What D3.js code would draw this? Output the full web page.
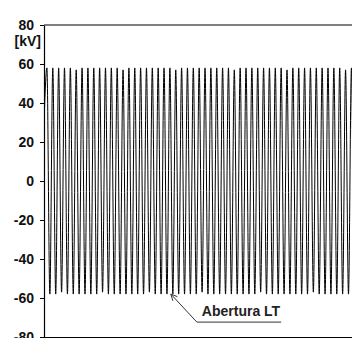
<!DOCTYPE html>
<html>
<head>
<meta charset="utf-8">
<script src="https://cdn.jsdelivr.net/npm/d3@7"></script>
<style>
  html, body { margin: 0; padding: 0; background: #fff; }
  svg { display: block; font-family: Arial, "Liberation Sans", sans-serif; }
</style>
</head>
<body>
<svg id="chart" width="352" height="338"></svg>
<script>
// waveform extrema (kV), one every half cycle at 60 Hz
const voltageKv = [
  30, 58, -58, 58, -58, 58, -57, 58, -58, 58, -58, 57, -58, 58, -58, 58, -58, 58,
  -58, 58, -57, 58, -58, 58, -58, 58, -58, 57, -58, 58, -58, 58, -58, 58, -58, 58,
  -57, 58, -58, 58, -58, 58, -58, 58, -58, 57, -58, 58, -58, 58, -58, 58, -58, 58,
  -57, 58, -58, 58, -58, 58, -58, 58, -58, 58, -58, 57, -58, 58, -58, 58, -58, 58,
  -58, 58, -57, 58, -58, 58, -58, 58, -58, 58, -58, 57, -58, 58, -58, 58, -58, 58,
  -58, 58, -57, 58, -58, 58, -58, 58, -58, 58, -58, 58, -58, 57, -58, 58, -58, 58
];
const startMs = 0;
const halfCycleMs = 1000 / 120;

const yTicks = [-80, -60, -40, -20, 0, 20, 40, 60, 80];
const xTicks = [0, 150, 300, 450, 600, 750, 900];
const unitLabel = "[kV]";

const annotations = [
  {label: "Abertura LT", t: 361, v: -58}
];

const svg = d3.select("#chart");
const width = +svg.attr("width");
const margin = {left: 44, top: 25, bottom: 337};

const x = d3.scaleLinear().domain([0, 900]).range([margin.left, margin.left + 6 * 52.7]);
const y = d3.scaleLinear().domain([-80, 80]).range([margin.bottom, margin.top]);

const samples = voltageKv.map((v, i) => ({t: startMs + i * halfCycleMs, v: v}));

svg.append("rect").attr("width", width).attr("height", 338).attr("fill", "#fff");

svg.append("defs").append("clipPath").attr("id", "plotClip")
  .append("rect")
  .attr("x", margin.left).attr("y", margin.top)
  .attr("width", width - margin.left).attr("height", margin.bottom - margin.top);

// waveform
const line = d3.line()
  .curve(d3.curveMonotoneX)
  .x(d => x(d.t))
  .y(d => y(d.v));

svg.append("path")
  .datum(samples)
  .attr("clip-path", "url(#plotClip)")
  .attr("fill", "none")
  .attr("stroke", "#000")
  .attr("stroke-width", 1)
  .attr("d", line);

// top border
svg.append("line")
  .attr("x1", margin.left).attr("x2", width)
  .attr("y1", y(80)).attr("y2", y(80))
  .attr("stroke", "#000").attr("stroke-width", 1.2);

// y axis
const yAxis = svg.append("g")
  .attr("transform", `translate(${margin.left},0)`)
  .call(d3.axisLeft(y).tickValues(yTicks).tickSize(4).tickSizeOuter(0).tickPadding(6)
    .tickFormat(d => d));
yAxis.select(".domain").attr("stroke", "#000").attr("stroke-width", 1.2);
yAxis.selectAll(".tick line").attr("stroke", "#000");
yAxis.selectAll(".tick text")
  .attr("font-family", "Arial, 'Liberation Sans', sans-serif")
  .attr("font-size", 14).attr("font-weight", "bold").attr("fill", "#111");

svg.append("text")
  .attr("x", 41).attr("y", 46)
  .attr("text-anchor", "end")
  .attr("font-size", 14).attr("font-weight", "bold").attr("fill", "#111")
  .text(unitLabel);

// x axis (labels fall below the picture)
const xAxis = svg.append("g")
  .attr("transform", `translate(0,${margin.bottom})`)
  .call(d3.axisBottom(x).tickValues(xTicks).tickSize(5).tickSizeOuter(0).tickFormat(""));
xAxis.select(".domain").attr("stroke", "#000").attr("stroke-width", 1.2);
xAxis.selectAll(".tick line").attr("stroke", "#000");

// annotation with leader and open arrowhead
annotations.forEach(a => {
  const tipX = x(a.t), tipY = y(a.v);
  const g = svg.append("g");
  const elbowX = tipX + 26, elbowY = tipY + 28;
  const text = g.append("text")
    .attr("x", elbowX + 5).attr("y", elbowY - 6)
    .attr("font-size", 14).attr("font-weight", "bold").attr("fill", "#222")
    .text(a.label);
  const tw = text.node().getComputedTextLength();
  g.append("path")
    .attr("d", `M${elbowX + tw + 6},${elbowY} H${elbowX} L${tipX},${tipY}`)
    .attr("fill", "none").attr("stroke", "#333").attr("stroke-width", 1);
  const ang = Math.atan2(elbowY - tipY, elbowX - tipX);
  const len = 7, spread = 0.45;
  g.append("path")
    .attr("d", `M${tipX + len * Math.cos(ang - spread)},${tipY + len * Math.sin(ang - spread)} L${tipX},${tipY} L${tipX + len * Math.cos(ang + spread)},${tipY + len * Math.sin(ang + spread)}`)
    .attr("fill", "none").attr("stroke", "#333").attr("stroke-width", 1);
});
</script>
</body>
</html>
